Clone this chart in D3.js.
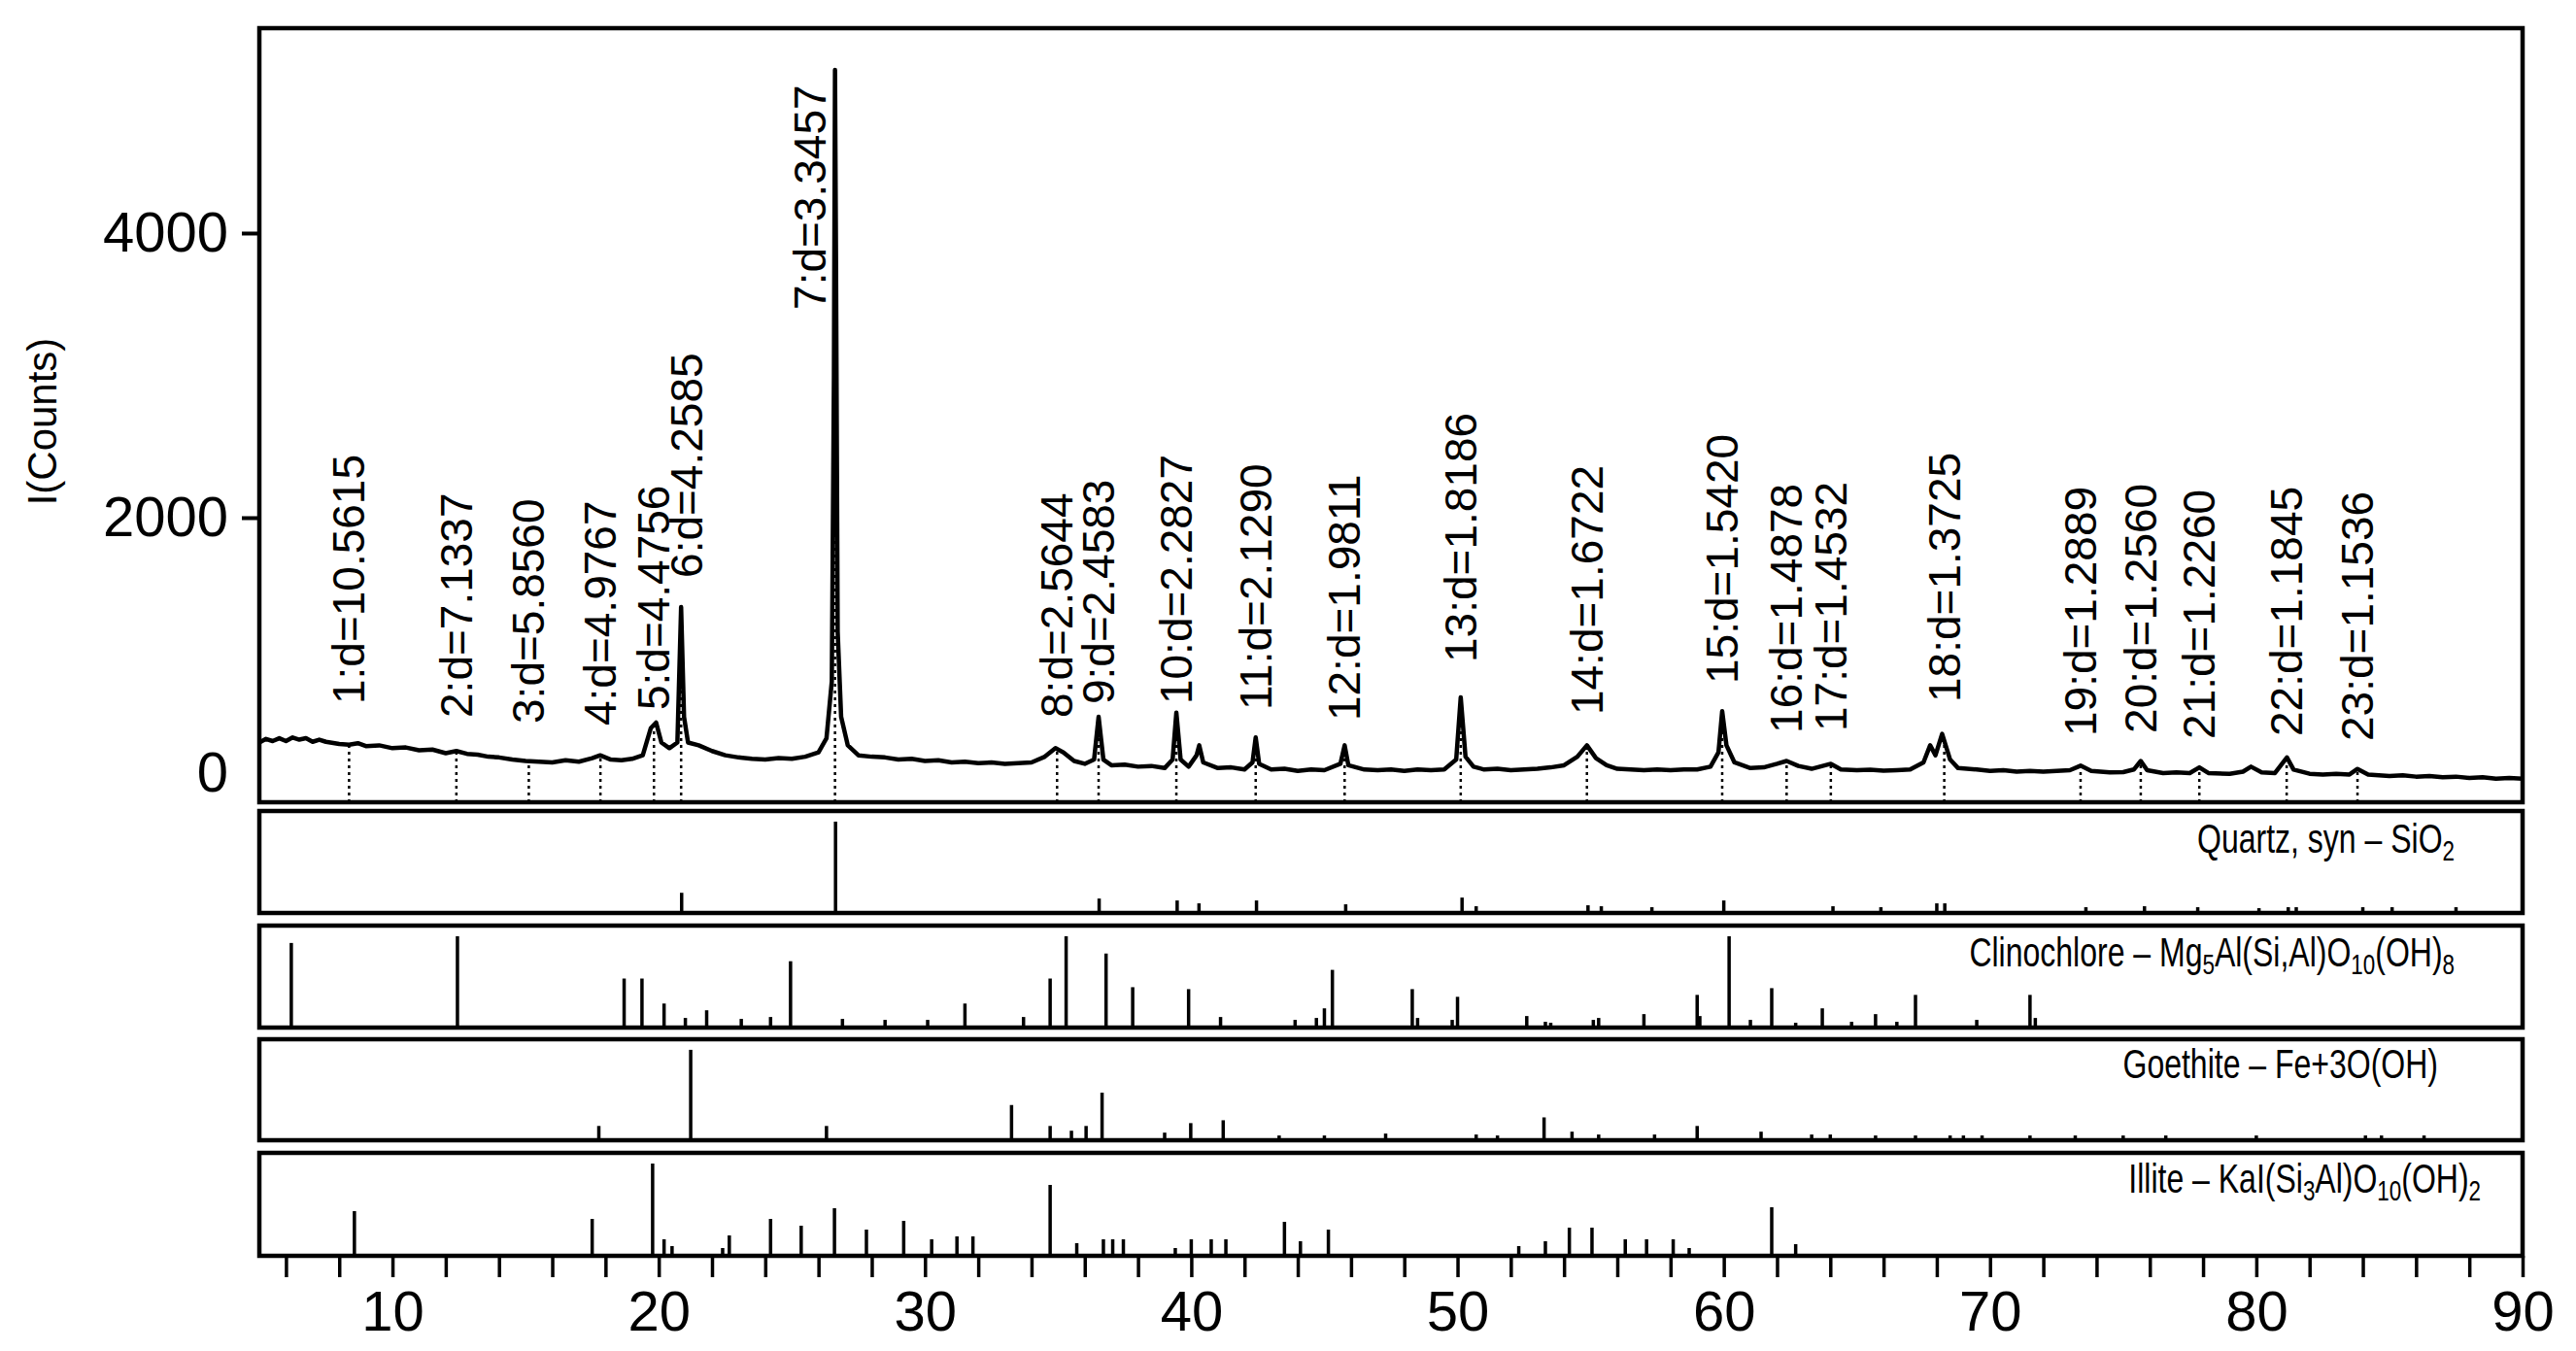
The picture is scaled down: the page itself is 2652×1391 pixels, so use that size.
<!DOCTYPE html>
<html><head><meta charset="utf-8">
<script src="https://cdn.jsdelivr.net/npm/d3@7"></script>
<style>body{margin:0;background:#fff}svg{display:block}</style>
</head><body>
<script>
// ---- data ----
const pattern = [[5,420],[5.25,445],[5.5,430],[5.75,450],[6,430],[6.25,455],[6.5,440],[6.75,450],[7,425],[7.25,440],[7.5,425],[8,410],[8.37,405],[8.7,415],[9,395],[9.5,400],[10,380],[10.5,385],[11,365],[11.5,370],[12,345],[12.4,360],[12.8,340],[13.2,335],[13.6,320],[14,315],[14.5,300],[15,290],[15.5,285],[16,280],[16.5,295],[17,285],[17.5,310],[17.8,330],[18.2,300],[18.6,295],[19,305],[19.4,330],[19.7,520],[19.9,560],[20.1,420],[20.4,380],[20.7,420],[20.84,1372],[20.95,600],[21.1,420],[21.5,400],[22,360],[22.5,330],[23,315],[23.5,305],[24,300],[24.5,310],[25,305],[25.5,320],[26,350],[26.3,450],[26.5,850],[26.58,3000],[26.62,5147],[26.66,3700],[26.72,1200],[26.85,600],[27.1,400],[27.5,330],[28,320],[28.5,315],[29,300],[29.5,305],[30,290],[30.5,295],[31,280],[31.5,285],[32,275],[32.5,280],[33,270],[33.5,275],[34,280],[34.5,320],[34.9,380],[35.2,350],[35.6,290],[36,270],[36.35,300],[36.52,600],[36.7,300],[37,260],[37.5,265],[38,250],[38.5,255],[39,240],[39.3,300],[39.44,630],[39.6,300],[39.9,250],[40.2,330],[40.3,400],[40.45,280],[41,240],[41.5,245],[42,230],[42.3,280],[42.42,456],[42.55,270],[43,230],[43.5,235],[44,220],[44.5,230],[45,225],[45.6,270],[45.76,400],[45.9,260],[46.5,230],[47,225],[47.5,230],[48,220],[48.5,230],[49,225],[49.5,230],[49.95,300],[50.12,737],[50.3,320],[50.6,250],[51,230],[51.5,235],[52,225],[52.5,230],[53,235],[53.5,245],[54,260],[54.5,320],[54.86,400],[55.2,310],[55.6,260],[56,235],[56.5,230],[57,225],[57.5,230],[58,225],[58.5,230],[59,230],[59.5,250],[59.8,350],[59.94,640],[60.1,400],[60.4,280],[61,240],[61.5,245],[62,270],[62.36,290],[62.8,255],[63.3,235],[64.02,270],[64.4,230],[65,225],[65.5,228],[66,222],[66.5,225],[67,230],[67.5,280],[67.75,400],[67.95,330],[68.2,480],[68.5,300],[68.8,240],[69.5,230],[70,220],[70.5,225],[71,215],[71.5,220],[72,215],[72.5,220],[73,225],[73.4,257],[73.8,220],[74.5,210],[75,212],[75.4,230],[75.66,290],[75.9,225],[76.5,205],[77,210],[77.5,205],[77.86,245],[78.2,205],[79,200],[79.5,215],[79.8,250],[80.2,210],[80.7,205],[81.15,315],[81.4,230],[82,200],[82.5,195],[83,200],[83.5,195],[83.8,234],[84.2,195],[85,185],[85.5,190],[86,180],[86.5,185],[87,175],[87.5,180],[88,170],[88.5,175],[89,165],[89.5,170],[90,165]];

const peakLabels = ["1:d=10.5615","2:d=7.1337","3:d=5.8560","4:d=4.9767","5:d=4.4756","6:d=4.2585","7:d=3.3457","8:d=2.5644","9:d=2.4583","10:d=2.2827","11:d=2.1290","12:d=1.9811","13:d=1.8186","14:d=1.6722","15:d=1.5420","16:d=1.4878","17:d=1.4532","18:d=1.3725","19:d=1.2889","20:d=1.2560","21:d=1.2260","22:d=1.1845","23:d=1.1536"];
const peakPos = [8.37,12.40,15.12,17.81,19.82,20.84,26.62,34.96,36.52,39.44,42.42,45.76,50.12,54.86,59.94,62.36,64.02,68.28,73.40,75.66,77.86,81.14,83.80];
const labelBase = [689,594,553,539,648,1577,3461,594,689,689,648,573,983,614,833,485,498,703,464,485,444,464,430];

const quartz = [[20.86,21],[26.64,95],[36.54,15],[39.47,13],[40.29,10],[42.45,13],[45.8,9],[50.17,16],[50.7,7],[54.9,8],[55.4,7],[57.3,6],[60.0,13],[64.1,7],[65.9,6],[68.0,10],[68.3,10],[73.6,6],[75.8,7],[77.8,6],[80.1,5],[81.2,6],[81.5,6],[84.0,6],[85.1,6],[87.5,6]];
const clinochlore = [[6.2,88],[12.44,95],[18.7,51],[19.37,51],[20.2,25],[21.0,10],[21.8,18],[23.1,9],[24.2,11],[24.95,69],[26.9,9],[28.5,8],[30.1,8],[31.5,25],[33.7,11],[34.7,51],[35.3,95],[36.8,77],[37.8,42],[39.9,40],[41.1,11],[43.9,8],[44.7,10],[45.0,20],[45.3,60],[48.3,40],[48.5,10],[49.8,8],[50.0,32],[52.6,12],[53.3,6],[53.5,5],[55.1,8],[55.3,10],[57.0,14],[59.0,34],[59.1,12],[60.2,95],[61.0,8],[61.8,41],[62.7,5],[63.7,20],[64.8,6],[65.7,14],[66.5,6],[67.2,34],[69.5,8],[71.5,34],[71.7,10]];
const goethite = [[17.75,15],[21.2,95],[26.3,15],[33.25,37],[34.7,15],[35.5,10],[36.05,15],[36.65,50],[39.0,8],[39.98,18],[41.2,21],[43.3,5],[45.0,5],[47.3,7],[50.7,6],[51.5,5],[53.25,24],[54.3,9],[55.3,6],[57.4,6],[59.0,15],[61.4,9],[63.3,6],[64.0,6],[65.7,5],[67.2,5],[68.5,5],[69.0,5],[69.7,5],[71.5,5],[73.2,5],[75.0,5],[76.6,5],[80.0,5],[84.1,5],[84.7,5],[86.3,5]];
const illite = [[8.57,46],[17.5,38],[19.77,95],[20.2,17],[20.5,10],[22.4,8],[22.65,21],[24.2,38],[25.35,31],[26.6,49],[27.8,27],[29.2,36],[30.25,17],[31.2,20],[31.8,20],[34.7,73],[35.7,13],[36.7,17],[37.05,17],[37.45,17],[39.4,8],[40.0,17],[40.75,17],[41.3,17],[43.5,35],[44.1,15],[45.15,27],[52.3,10],[53.3,15],[54.2,29],[55.05,29],[56.3,17],[57.1,17],[58.1,17],[58.7,8],[61.8,50],[62.7,12]];

const yTicks = [0,2000,4000];
const xLabelTicks = [10,20,30,40,50,60,70,80,90];

// ---- layout ----
const W=2652,H=1391, L=267, R=2597;
const svg=d3.select("body").append("svg").attr("width",W).attr("height",H);
const FONT="'Liberation Sans', Arial, sans-serif";
const x=d3.scaleLinear().domain([5,90]).range([L,R]);
const mainTop=29, mainBot=826;
const y=d3.scaleLinear().domain([0,5440]).range([mainBot,mainTop]);

svg.append("path").datum(pattern)
 .attr("d",d3.line().x(d=>x(d[0])).y(d=>y(d[1])))
 .attr("fill","none").attr("stroke","#000").attr("stroke-width",4.5).attr("stroke-linejoin","round");

const bis=d3.bisector(d=>d[0]).left;
function valAt(t){const i=Math.max(1,Math.min(pattern.length-1,bis(pattern,t)));const a=pattern[i-1],b=pattern[i];return a[1]+(b[1]-a[1])*(t-a[0])/(b[0]-a[0]);}
peakPos.forEach((p,i)=>{
  svg.append("line").attr("x1",x(p)).attr("x2",x(p)).attr("y1",mainBot).attr("y2",y(Math.min(valAt(p),labelBase[i])))
   .attr("stroke","#000").attr("stroke-width",2.5).attr("stroke-dasharray","3,4");
  const dx = i===6 ? -26 : (i===5 ? 6 : 0);
  svg.append("text").attr("transform",`translate(${x(p)+dx},${y(labelBase[i])}) rotate(-90)`)
   .attr("dominant-baseline","central").attr("font-family",FONT).attr("font-size",46).text(peakLabels[i]);
});

svg.append("rect").attr("x",L).attr("y",mainTop).attr("width",R-L).attr("height",mainBot-mainTop)
 .attr("fill","none").attr("stroke","#000").attr("stroke-width",4.5);

const ya=svg.append("g").attr("transform",`translate(${L},0)`)
 .call(d3.axisLeft(y).tickValues(yTicks).tickSize(18).tickPadding(14).tickFormat(d3.format("d")));
ya.select(".domain").remove();
ya.selectAll("line").attr("stroke-width",4);
ya.selectAll("text").attr("font-family",FONT).attr("font-size",58).attr("fill","#000");
ya.selectAll(".tick").filter(d=>d===0).select("line").remove();
ya.selectAll(".tick").filter(d=>d===0).select("text").attr("y",-30);
svg.append("text").attr("transform","translate(58,434) rotate(-90)").attr("text-anchor","middle")
 .attr("font-family",FONT).attr("font-size",42).text("I(Counts)");

const panels=[
 {data:quartz, top:835, bot:940, label:[["Quartz, syn – SiO",""],["2","sub"]], lx:2527, ly:878},
 {data:clinochlore, top:953, bot:1058, label:[["Clinochlore – Mg",""],["5","sub"],["Al(Si,Al)O",""],["10","sub"],["(OH)",""],["8","sub"]], lx:2527, ly:995},
 {data:goethite, top:1070, bot:1174, label:[["Goethite – Fe+3O(OH)",""]], lx:2510, ly:1110},
 {data:illite, top:1187, bot:1293, label:[["Illite – KaI(Si",""],["3","sub"],["Al)O",""],["10","sub"],["(OH)",""],["2","sub"]], lx:2554, ly:1228}
];
panels.forEach(pn=>{
  const ys=d3.scaleLinear().domain([0,100]).range([pn.bot,pn.top+6]);
  svg.append("g").selectAll("line").data(pn.data).join("line")
   .attr("x1",d=>x(d[0])).attr("x2",d=>x(d[0])).attr("y1",pn.bot).attr("y2",d=>ys(d[1]))
   .attr("stroke","#000").attr("stroke-width",3.5);
  svg.append("rect").attr("x",L).attr("y",pn.top).attr("width",R-L).attr("height",pn.bot-pn.top)
   .attr("fill","none").attr("stroke","#000").attr("stroke-width",4.5);
  const t=svg.append("text").attr("transform",`translate(${pn.lx},${pn.ly}) scale(0.8,1.05)`).attr("text-anchor","end")
   .attr("font-family",FONT).attr("font-size",40);
  pn.label.forEach(([s,k])=>{
    const ts=t.append("tspan").text(s);
    if(k==="sub") ts.attr("font-size",28).attr("baseline-shift","-25%");
  });
});

const xa=svg.append("g").attr("transform",`translate(0,1293)`)
 .call(d3.axisBottom(x).tickValues(d3.range(6,91,2)).tickSize(22).tickPadding(14)
   .tickFormat(d=>xLabelTicks.includes(d)?d:""));
xa.select(".domain").remove();
xa.selectAll("line").attr("stroke-width",3.5);
xa.selectAll("text").attr("font-family",FONT).attr("font-size",58).attr("fill","#000");
</script>
</body></html>
